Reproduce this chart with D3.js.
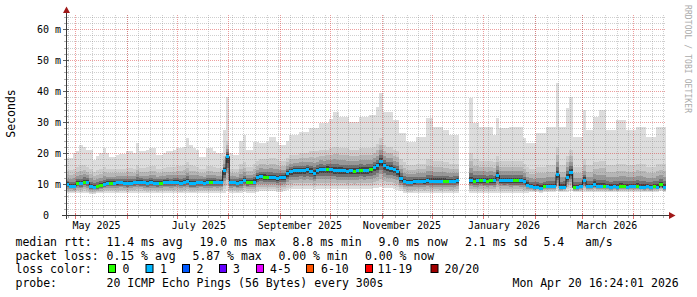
<!DOCTYPE html>
<html>
<head>
<meta charset="utf-8">
<script src="https://cdn.jsdelivr.net/npm/d3@7"></script>
<style>
  body { margin: 0; background: #fff; }
  svg text { font-family: "DejaVu Sans Mono", monospace; }
</style>
</head>
<body>
<div id="chart"></div>
<script>
// time frame: last 360 days, one sample every 2 days
var endTime = new Date(Date.UTC(2026, 3, 20, 16, 24, 1));
var spanDays = 360;
var stepDays = 2;
var startTime = new Date(+endTime - spanDays * 864e5);

// median rtt (ms), one value per sample, null = no data
var median = [
  10.0, 9.4, 9.4, 10.3, 10.3, 10.8, 10.6, 9.2, 9.1, 9.2,
  9.6, 9.9, 10.3, 10.4, 10.4, 10.5, 10.6, 10.4, 10.3, 10.4,
  10.6, 10.8, 10.7, 10.5, 10.3, 10.5, 10.4, 10.3, 10.4, 10.6,
  10.6, 10.5, 10.6, 10.8, 10.4, 10.6, 11.0, 10.3, 10.3, 10.5,
  10.6, 10.4, 10.5, 10.5, 10.6, 10.5, 10.6, 14.5, 19.0, 10.5,
  10.6, 10.3, 10.5, 11.3, 10.7, 10.8, 10.8, 12.2, 12.6, 12.4,
  12.3, 12.2, 12.1, 12.0, 12.1, 12.2, 13.5, 14.2, 14.5, 14.4,
  14.6, 14.5, 14.7, 14.3, 13.6, 14.6, 14.8, 14.7, 15.0, 14.8,
  14.6, 14.5, 14.5, 14.4, 14.3, 14.4, 14.3, 14.4, 14.6, 14.5,
  14.6, 14.7, 15.4, 16.0, 17.4, 16.0, 15.4, 15.3, 14.7, 14.2,
  12.0, 11.0, 10.8, 10.8, 10.9, 11.0, 11.0, 10.9, 11.2, 11.1,
  11.1, 11.0, 11.0, 11.1, 11.0, 11.0, 11.1, 11.3, null, null,
  null, 11.3, 11.1, 11.2, 11.3, 11.2, 11.1, 11.2, 11.2, 13.0,
  11.3, 11.2, 11.3, 11.2, 11.2, 11.2, 11.2, 11.0, 9.8, 9.2,
  9.0, 9.1, 8.8, 9.2, 9.3, 9.3, 9.2, 13.2, 9.0, 9.1,
  12.4, 14.0, 9.0, 8.9, 9.2, 11.3, 9.3, 9.2, 10.0, 9.3,
  9.2, 9.3, 9.2, 9.0, 9.2, 9.0, 9.3, 9.2, 9.1, 9.3,
  9.2, 9.4, 9.1, 9.0, 9.2, 9.0, 9.3, 9.1, 9.9, 9.0
];

// lost pings (of 20) per sample
var loss = [
  1, 1, 1, 0, 1, 0, 1, 1, 1, 0,
  0, 1, 1, 0, 1, 1, 1, 1, 1, 1,
  1, 1, 1, 1, 1, 1, 1, 1, 0, 1,
  1, 1, 1, 1, 1, 1, 1, 1, 1, 1,
  1, 1, 1, 0, 1, 1, 1, 1, 1, 1,
  1, 1, 1, 1, 0, 0, 1, 1, 1, 0,
  0, 1, 1, 1, 1, 1, 1, 1, 1, 1,
  1, 1, 1, 1, 1, 1, 1, 1, 0, 1,
  1, 1, 1, 1, 1, 1, 0, 1, 0, 1,
  1, 0, 1, 1, 1, 1, 1, 1, 1, 1,
  1, 1, 1, 1, 1, 1, 1, 1, 1, 1,
  1, 1, 1, 0, 0, 1, 1, 1, null, null,
  null, 1, 0, 1, 0, 1, 0, 0, 1, 1,
  1, 1, 1, 1, 0, 0, 1, 1, 1, 1,
  1, 1, 1, 0, 1, 1, 1, 1, 1, 1,
  1, 1, 0, 1, 1, 1, 1, 1, 1, 1,
  1, 0, 1, 1, 1, 1, 0, 0, 1, 1,
  1, 0, 1, 1, 1, 1, 0, 1, 0, 1
];

// smoke: fastest ping, upper body of the pings, slowest ping (ms)
var smokeLo = [
  7.0, 7.2, 7.0, 7.2, 7.0, 7.2, 7.0, 6.8, 6.8, 7.0,
  7.0, 7.2, 7.2, 7.2, 7.2, 7.0, 7.2, 7.2, 7.0, 7.2,
  7.2, 7.2, 7.2, 7.2, 7.0, 7.2, 7.2, 7.0, 7.2, 7.2,
  7.2, 7.2, 7.2, 7.2, 7.0, 7.2, 7.2, 7.0, 7.0, 7.2,
  7.2, 7.2, 7.2, 7.2, 7.2, 7.2, 7.2, 7.2, 7.8, 7.2,
  7.2, 7.0, 7.2, 7.4, 7.2, 7.2, 7.2, 7.5, 7.6, 7.6,
  7.6, 7.6, 7.6, 7.5, 7.5, 7.6, 8.0, 8.3, 8.4, 8.4,
  8.4, 8.4, 8.5, 8.4, 8.2, 8.4, 8.5, 8.5, 8.5, 8.5,
  8.4, 8.4, 8.4, 8.4, 8.3, 8.4, 8.3, 8.4, 8.4, 8.4,
  8.4, 8.5, 8.6, 8.8, 9.0, 8.8, 8.6, 8.6, 8.4, 8.2,
  7.6, 7.2, 7.0, 7.0, 7.0, 7.2, 7.2, 7.0, 7.2, 7.2,
  7.2, 7.2, 7.0, 7.2, 7.2, 7.0, 7.2, 7.2, null, null,
  null, 7.2, 7.0, 7.0, 7.2, 7.2, 7.0, 7.2, 7.0, 7.2,
  7.2, 7.2, 7.2, 7.0, 7.2, 7.2, 7.0, 7.0, 7.2, 7.4,
  7.4, 7.5, 7.2, 7.5, 7.5, 7.5, 7.5, 7.6, 7.4, 7.5,
  7.5, 7.6, 7.4, 7.4, 7.5, 7.5, 7.5, 7.5, 7.5, 7.5,
  7.5, 7.5, 7.4, 7.4, 7.5, 7.4, 7.5, 7.5, 7.4, 7.5,
  7.5, 7.5, 7.4, 7.4, 7.5, 7.4, 7.5, 7.4, 7.6, 7.4
];

var smokeMid = [
  14.5, 14.5, 15.0, 15.5, 16.0, 16.0, 15.5, 15.0, 14.0, 14.5,
  15.0, 15.5, 15.0, 14.8, 14.8, 15.0, 15.0, 15.0, 15.2, 15.2,
  15.0, 16.0, 15.2, 15.2, 15.5, 15.8, 15.8, 15.0, 15.0, 15.2,
  15.5, 15.5, 15.5, 15.8, 15.8, 16.0, 17.0, 16.0, 15.8, 15.5,
  14.8, 14.8, 15.8, 15.8, 15.5, 15.2, 15.2, 19.0, 24.0, 15.0,
  15.0, 15.0, 16.5, 17.0, 15.5, 15.5, 16.5, 17.5, 18.0, 18.0,
  18.0, 18.5, 18.5, 18.0, 17.5, 17.5, 18.5, 19.5, 19.5, 19.5,
  20.0, 20.0, 20.0, 20.5, 20.5, 20.5, 21.0, 21.0, 21.0, 21.5,
  22.0, 22.0, 21.5, 21.5, 21.5, 21.0, 21.0, 21.0, 21.5, 21.5,
  21.5, 21.5, 22.0, 23.0, 25.0, 22.5, 22.0, 22.0, 21.0, 20.5,
  18.0, 17.0, 16.0, 16.0, 16.0, 16.5, 16.5, 16.5, 18.0, 18.0,
  17.5, 17.5, 17.5, 17.0, 17.0, 16.5, 16.5, 16.5, null, null,
  null, 20.0, 18.0, 18.0, 17.5, 17.5, 17.5, 17.5, 17.0, 19.0,
  17.5, 17.5, 17.5, 17.5, 17.5, 17.5, 17.5, 16.5, 15.5, 15.0,
  15.0, 15.5, 15.5, 15.5, 16.0, 16.0, 16.0, 22.0, 16.0, 16.0,
  19.0, 21.0, 15.5, 15.5, 15.5, 18.0, 16.0, 16.0, 17.0, 17.0,
  17.5, 17.5, 16.0, 16.0, 16.0, 16.5, 16.5, 16.5, 16.0, 16.0,
  16.0, 16.5, 16.5, 16.5, 15.5, 15.5, 15.5, 16.5, 16.5, 16.5
];

var smokeHi = [
  18.4, 18.4, 19.9, 20.5, 22.6, 22.0, 21.0, 21.0, 17.7, 19.0,
  19.9, 21.6, 20.0, 18.8, 18.8, 19.3, 19.6, 19.6, 20.6, 20.6,
  20.0, 23.2, 20.5, 20.5, 21.0, 21.6, 21.6, 19.4, 19.4, 20.0,
  20.6, 20.6, 21.0, 21.6, 21.6, 22.0, 24.7, 22.5, 21.6, 21.0,
  18.8, 18.8, 21.6, 21.6, 20.8, 19.9, 19.9, 27.4, 38.2, 19.9,
  19.4, 19.4, 24.0, 25.8, 20.9, 20.9, 23.6, 23.6, 23.2, 23.2,
  23.6, 25.3, 25.3, 23.5, 22.6, 22.6, 24.0, 25.8, 25.8, 25.8,
  26.9, 26.9, 26.9, 28.0, 28.0, 28.0, 29.6, 29.6, 29.6, 31.0,
  33.3, 33.3, 31.7, 31.7, 31.7, 30.1, 30.1, 30.1, 31.7, 31.7,
  31.7, 32.3, 32.3, 35.0, 39.3, 33.3, 33.3, 33.3, 30.6, 30.6,
  26.3, 26.3, 23.6, 23.6, 23.6, 25.3, 25.3, 25.3, 31.2, 31.2,
  28.5, 28.5, 28.5, 27.4, 27.4, 25.8, 25.8, 25.8, null, null,
  null, 37.6, 29.6, 29.6, 28.5, 28.5, 28.5, 28.5, 25.8, 31.2,
  28.0, 28.0, 28.0, 28.5, 28.5, 28.5, 28.5, 24.7, 23.2, 23.2,
  23.2, 26.3, 26.3, 26.3, 28.5, 28.5, 28.5, 42.5, 28.5, 28.5,
  34.4, 38.2, 25.3, 25.3, 25.3, 34.0, 27.4, 27.4, 31.7, 31.7,
  33.9, 33.9, 27.4, 27.4, 27.4, 30.6, 30.6, 30.6, 27.4, 27.4,
  27.4, 28.5, 28.5, 28.5, 25.3, 25.3, 25.3, 28.5, 28.5, 28.5
];

// axis labels
var yTickValues = [0, 10, 20, 30, 40, 50, 60];
var yTickLabels = ["0  ", "10 m", "20 m", "30 m", "40 m", "50 m", "60 m"];
var monthLabels = ["May 2025", "July 2025", "September 2025", "November 2025", "January 2026", "March 2026"];
var monthLabelDates = ["2025-05-14T00:00Z", "2025-07-14T09:00Z", "2025-09-13T02:00Z",
  "2025-11-13T07:00Z", "2026-01-13T12:00Z", "2026-03-16T09:00Z"];

// legend
var lossNames = ["0", "1", "2", "3", "4-5", "6-10", "11-19", "20/20"];
var lossColors = ["#26ff00", "#00b8ff", "#0059ff", "#6400ff", "#e600ff", "#ff5500", "#ff0000", "#a00000"];
var lossBoxX = [108.5, 146, 182.5, 219.5, 256.5, 306.5, 365.5, 431];
var lossTextX = [122.5, 160, 196.5, 233, 270, 321, 377.5, 444.5];
var rttStats = ["11.4 ms avg", "19.0 ms max", "8.8 ms min", "9.0 ms now", "2.1 ms sd", "5.4", "am/s"];
var rttStatsX = [106.5, 199.5, 292.5, 378.5, 465, 543.5, 585];
var lossStats = ["0.15 % avg", "5.87 % max", "0.00 % min", "0.00 % now"];
var lossStatsX = [106.5, 192.5, 278.5, 365];
var probeText = "20 ICMP Echo Pings (56 Bytes) every 300s";
var stampText = "Mon Apr 20 16:24:01 2026";

var svgWidth = 697;
var svgHeight = 297;

var svg = d3.select("#chart")
  .append("svg")
  .attr("width", svgWidth)
  .attr("height", svgHeight)
  .style("display", "block");

var x = d3.scaleUtc().domain([startTime, endTime]).range([66, 666]);
var y = d3.scaleLinear().domain([0, 200 / 3.1]).range([215, 15]);

function tAt(i) {
  return new Date(+startTime + i * stepDays * 864e5);
}

// smoke, darker towards the median
var smoke = svg.append("g").attr("shape-rendering", "crispEdges");
median.forEach(function(m, i) {
  if (m == null) return;
  var x0 = Math.round(x(tAt(i)));
  var x1 = Math.round(x(tAt(i + 1)));
  var lo = smokeLo[i], mid = smokeMid[i], hi = smokeHi[i];
  var bands = [
    [lo, hi, "#dddddd"],
    [lo + (m - lo) * 0.15, mid, "#cccccc"],
    [m - (m - lo) * 0.7, m + (mid - m) * 0.7, "#b6b6b6"],
    [m - (m - lo) * 0.5, m + (mid - m) * 0.45, "#989898"],
    [m - (m - lo) * 0.35, m + (mid - m) * 0.25, "#707070"],
    [m - (m - lo) * 0.2, m + (mid - m) * 0.12, "#424242"]
  ];
  bands.forEach(function(b) {
    smoke.append("rect")
      .attr("x", x0)
      .attr("width", x1 - x0)
      .attr("y", y(b[1]))
      .attr("height", y(b[0]) - y(b[1]))
      .attr("fill", b[2]);
  });
});

// grid, half transparent like rrdtool's
var minorColor = "rgba(128,128,128,0.38)";
var majorColor = "rgba(215,40,40,0.45)";
var grid = svg.append("g").attr("shape-rendering", "crispEdges");

d3.range(2, 65, 2).forEach(function(v) {
  var yy = Math.round(y(v)) + 0.5;
  grid.append("line")
    .attr("x1", 66).attr("x2", 666)
    .attr("y1", yy).attr("y2", yy)
    .attr("stroke", v % 10 ? minorColor : majorColor)
    .attr("stroke-dasharray", "1,1");
});

var weeks = d3.utcSunday.range(startTime, endTime);
var months = d3.utcMonth.range(startTime, endTime);

weeks.forEach(function(t) {
  var xx = Math.round(x(t)) + 0.5;
  grid.append("line")
    .attr("x1", xx).attr("x2", xx)
    .attr("y1", 15).attr("y2", 215)
    .attr("stroke", minorColor)
    .attr("stroke-dasharray", "1,1");
  grid.append("line")
    .attr("x1", xx).attr("x2", xx)
    .attr("y1", 215).attr("y2", 218)
    .attr("stroke", "#b0b0b0");
});

months.forEach(function(t) {
  var xx = Math.round(x(t)) + 0.5;
  grid.append("line")
    .attr("x1", xx).attr("x2", xx)
    .attr("y1", 15).attr("y2", 215)
    .attr("stroke", majorColor)
    .attr("stroke-dasharray", "1,1");
  grid.append("line")
    .attr("x1", xx).attr("x2", xx)
    .attr("y1", 213).attr("y2", 219)
    .attr("stroke", "#e07070");
});

// y axis ticks
d3.range(0, 65, 2).forEach(function(v) {
  var yy = Math.round(y(v)) + 0.5;
  grid.append("line")
    .attr("x1", v % 10 ? 64 : 63).attr("x2", v % 10 ? 68 : 69)
    .attr("y1", yy).attr("y2", yy)
    .attr("stroke", v % 10 ? "#b0b0b0" : "#606060");
});

// median: thin dark stair line
var stair = [];
median.forEach(function(m, i) {
  if (m == null) { stair.push(null); return; }
  stair.push([tAt(i), m]);
  stair.push([tAt(i + 1), m]);
});

var line = d3.line()
  .defined(function(d) { return d != null; })
  .x(function(d) { return x(d[0]); })
  .y(function(d) { return Math.round(y(d[1])) + 0.5; });

svg.append("path")
  .attr("d", line(stair))
  .attr("fill", "none")
  .attr("stroke", "#202020")
  .attr("stroke-width", 1);

// median coloured by loss
var marks = svg.append("g").attr("shape-rendering", "crispEdges");
median.forEach(function(m, i) {
  if (m == null) return;
  var x0 = Math.round(x(tAt(i)));
  var x1 = Math.round(x(tAt(i + 1)));
  var yy = Math.round(y(m));
  marks.append("rect")
    .attr("x", x0)
    .attr("width", x1 - x0)
    .attr("y", yy - 1)
    .attr("height", 3)
    .attr("fill", lossColors[loss[i]]);
});

// axes
var axisColor = "#3a3a3a";
svg.append("line")
  .attr("x1", 62).attr("x2", 670)
  .attr("y1", 215.5).attr("y2", 215.5)
  .attr("stroke", axisColor);
svg.append("line")
  .attr("x1", 66.5).attr("x2", 66.5)
  .attr("y1", 219).attr("y2", 12)
  .attr("stroke", axisColor);

svg.append("path")
  .attr("d", "M63,13 L70,13 L66.5,6.5 Z")
  .attr("fill", "#a01818");
svg.append("path")
  .attr("d", "M669,212 L669,219 L675.5,215.5 Z")
  .attr("fill", "#a01818");

// axis labels
svg.selectAll(".ylab")
  .data(yTickValues)
  .enter()
  .append("text")
  .attr("class", "ylab")
  .attr("x", 61)
  .attr("y", function(d) { return Math.round(y(d)) + 4; })
  .attr("text-anchor", "end")
  .attr("font-size", "10px")
  .attr("fill", "#000")
  .attr("xml:space", "preserve")
  .text(function(d, i) { return yTickLabels[i]; });

svg.selectAll(".xlab")
  .data(monthLabels)
  .enter()
  .append("text")
  .attr("class", "xlab")
  .attr("x", function(d, i) { return x(new Date(monthLabelDates[i])); })
  .attr("y", 228.5)
  .attr("text-anchor", "middle")
  .attr("font-size", "10px")
  .attr("fill", "#000")
  .text(function(d) { return d; });

svg.append("text")
  .attr("transform", "translate(15,113.5) rotate(-90)")
  .attr("text-anchor", "middle")
  .attr("font-size", "11.5px")
  .attr("fill", "#000")
  .text("Seconds");

svg.append("text")
  .attr("transform", "translate(685,5) rotate(90)")
  .attr("font-size", "8px")
  .attr("fill", "#aaaaaa")
  .attr("textLength", 108)
  .attr("lengthAdjust", "spacing")
  .text("RRDTOOL / TOBI OETIKER");

// legend
var legend = svg.append("g")
  .attr("font-size", "11.5px")
  .attr("fill", "#000")
  .attr("xml:space", "preserve");

legend.append("text").attr("x", 15.5).attr("y", 246).text("median rtt:");
rttStats.forEach(function(s, i) {
  legend.append("text").attr("x", rttStatsX[i]).attr("y", 246).text(s);
});

legend.append("text").attr("x", 15.5).attr("y", 259.5).text("packet loss:");
lossStats.forEach(function(s, i) {
  legend.append("text").attr("x", lossStatsX[i]).attr("y", 259.5).text(s);
});

legend.append("text").attr("x", 15.5).attr("y", 273.3).text("loss color:");
lossNames.forEach(function(s, i) {
  legend.append("rect")
    .attr("x", lossBoxX[i])
    .attr("y", 264.5)
    .attr("width", 7)
    .attr("height", 8)
    .attr("fill", lossColors[i])
    .attr("stroke", "#000");
  legend.append("text").attr("x", lossTextX[i]).attr("y", 273.3).text(s);
});

legend.append("text").attr("x", 15.5).attr("y", 287).text("probe:");
legend.append("text").attr("x", 106.5).attr("y", 287).text(probeText);
legend.append("text").attr("x", 512.5).attr("y", 287).text(stampText);
</script>
</body>
</html>
